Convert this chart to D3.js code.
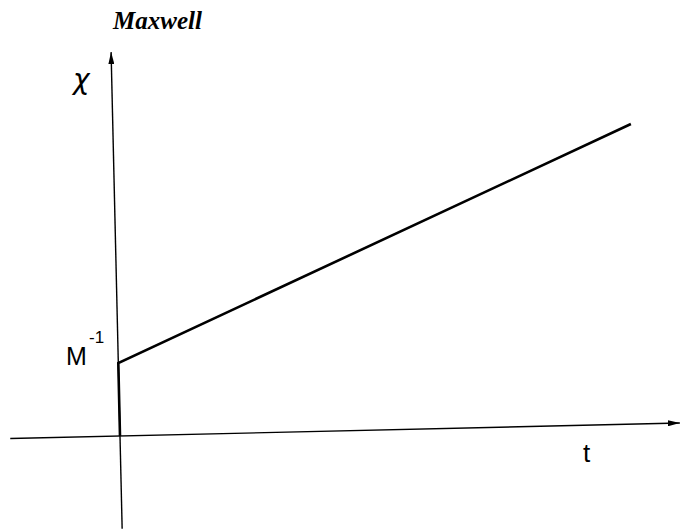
<!DOCTYPE html>
<html>
<head>
<meta charset="utf-8">
<script src="https://cdn.jsdelivr.net/npm/d3@7"></script>
<style>
  body { margin: 0; background: #fff; }
  svg { display: block; }
</style>
</head>
<body>
<svg id="chart" width="681" height="529"></svg>
<script>
// curve: starts at M^-1 on the chi axis, then rises linearly with t
var tValues = [0, 0, 9.25];
var chiValues = [0, 1, 4.11];

// axis extents (data units)
var tRange = [-1.96, 10];
var chiRange = [-1.27, 5.26];

var svg = d3.select("#chart");

// the scan is tilted a little, so the plot group is rotated around the origin
var origin = [120, 436];
var g = svg.append("g")
    .attr("transform", "translate(" + origin[0] + "," + origin[1] + ") rotate(-1.33)");

var x = d3.scaleLinear().domain([0, 10]).range([0, 560]);
var y = d3.scaleLinear().domain([0, 1]).range([0, -73]);

// arrow heads
var defs = svg.append("defs");
defs.append("marker")
    .attr("id", "arrow")
    .attr("viewBox", "0 0 12 6")
    .attr("refX", 12)
    .attr("refY", 3)
    .attr("markerWidth", 12)
    .attr("markerHeight", 6)
    .attr("markerUnits", "userSpaceOnUse")
    .attr("orient", "auto")
    .append("path")
    .attr("d", "M0,0 L12,3 L0,6 Z")
    .attr("fill", "#000");

// x axis
g.append("line")
    .attr("x1", x(tRange[0])).attr("y1", y(0))
    .attr("x2", x(tRange[1])).attr("y2", y(0))
    .attr("stroke", "#000")
    .attr("stroke-width", 1.4)
    .attr("marker-end", "url(#arrow)");

// y axis
g.append("line")
    .attr("x1", x(0)).attr("y1", y(chiRange[0]))
    .attr("x2", x(0)).attr("y2", y(chiRange[1]))
    .attr("stroke", "#000")
    .attr("stroke-width", 1.4)
    .attr("marker-end", "url(#arrow)");

// the curve
var pts = tValues.map(function(t, i) { return [t, chiValues[i]]; });
var line = d3.line()
    .x(function(d) { return x(d[0]); })
    .y(function(d) { return y(d[1]); });

g.append("path")
    .datum(pts)
    .attr("d", line)
    .attr("fill", "none")
    .attr("stroke", "#000")
    .attr("stroke-width", 2.6)
    .attr("stroke-linejoin", "miter");

// labels
svg.append("text")
    .attr("x", 113)
    .attr("y", 29)
    .style("font-family", "'Liberation Serif', 'Times New Roman', serif")
    .style("font-style", "italic")
    .style("font-weight", "bold")
    .style("font-size", "25px")
    .text("Maxwell");

svg.append("text")
    .attr("x", 73)
    .attr("y", 89)
    .style("font-family", "'DejaVu Sans', sans-serif")
    .style("font-style", "italic")
    .style("font-size", "28px")
    .text("χ");

svg.append("text")
    .attr("x", 66)
    .attr("y", 365)
    .style("font-family", "'Liberation Sans', Arial, sans-serif")
    .style("font-size", "25px")
    .text("M");

svg.append("text")
    .attr("x", 89)
    .attr("y", 343)
    .style("font-family", "'Liberation Sans', Arial, sans-serif")
    .style("font-size", "17px")
    .text("-1");

svg.append("text")
    .attr("x", 583)
    .attr("y", 462)
    .style("font-family", "'Liberation Sans', Arial, sans-serif")
    .style("font-size", "26px")
    .text("t");
</script>
</body>
</html>
